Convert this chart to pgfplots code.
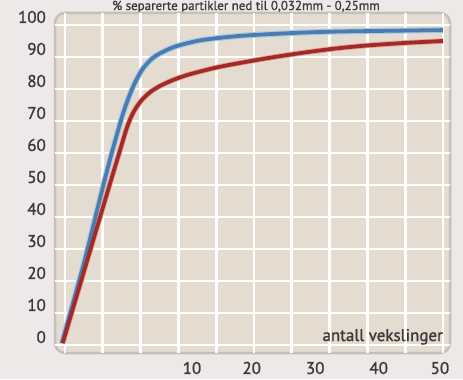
\documentclass[border=0pt]{standalone}
\usepackage{pgfplots}
\pgfplotsset{compat=1.18}
\usepackage{fontspec}
\setmainfont{PT Sans}
\newfontfamily\semib{PT Sans}[FakeBold=1.2]
\definecolor{panel}{HTML}{E4DCD0}
\definecolor{panelborder}{HTML}{C4BFBB}
\definecolor{bluec}{HTML}{4A7DAE}
\definecolor{bluehalo}{HTML}{A9CBE6}
\definecolor{redc}{HTML}{A32A2B}
\definecolor{redhalo}{HTML}{E7A78E}
\definecolor{bg}{HTML}{ECE9E8}
\definecolor{tickc}{HTML}{3A3A3A}
\pgfplotstableread{
x y
-0.4 -1.9
2.5 23
4.5 42
5.9 55
6.9 63.5
7.7 70
8.5 75.3
9.3 79.7
10.2 83.5
11.2 86.3
12.3 88.3
14.5 90.7
17.9 92.7
22.2 93.9
26.7 94.6
35.1 95.4
50 95.9
}\bluedata
\pgfplotstableread{
x y
-0.3 -1.9
3.5 28.4
6.1 49.1
7.3 58.5
8.2 65.5
9.0 70.0
10.0 73.6
11.2 76.4
12.6 78.5
14.5 80.5
16.5 82.1
20 84.2
24 86.0
28 87.6
32 89.0
36 90.2
40 91.1
45 91.9
50 92.5
}\reddata
\begin{document}
\begin{tikzpicture}[x=1bp,y=1bp]
\clip (0,0) rectangle (463,379);
\fill[bg] (0,0) rectangle (463,379);
\node[anchor=base, inner sep=0pt, font=\semib\fontsize{13}{15}\selectfont, text=tickc] at (246,369) {\% separerte partikler ned til 0,032mm - 0,25mm};
\begin{axis}[
 at={(55bp,26bp)}, anchor=south west,
 width=395bp, height=340bp, scale only axis,
 xmin=-1.32, xmax=50.93, ymin=-5, ymax=101.25,
 axis line style={draw=none},
 axis background/.style={fill=panel, draw=panelborder, rounded corners=10bp, line width=2.5bp},
 xtick={16.8,24.7,33.1,41.5,49.6}, xticklabels={10,20,30,40,50},
 ytick={0,10,...,100},
 extra x ticks={0,5,...,50}, extra x tick labels={},
 extra x tick style={grid=major},
 extra y ticks={-2.5,7.5,...,97.5}, extra y tick labels={},
 extra y tick style={grid=major},
 major grid style={white, line width=2.8bp},
 tick style={draw=none},
 ticklabel style={font=\semib\fontsize{17}{19}\selectfont, text=tickc},
 /pgf/number format/assume math mode=true,
 xticklabel style={anchor=center, yshift=-15bp},
 yticklabel style={anchor=east, inner sep=0pt, xshift=-9bp},
]
\addplot[bluehalo, line width=6bp, smooth] table {\bluedata};
\addplot[redhalo, line width=5.5bp, smooth] table {\reddata};
\addplot[bluec, line width=3.8bp, smooth] table {\bluedata};
\addplot[redc, line width=3.8bp, smooth] table {\reddata};
\end{axis}
\node[anchor=base east, inner sep=0pt, font=\semib\fontsize{17}{19}\selectfont, text=tickc] at (443,38) {antall vekslinger};
\end{tikzpicture}
\end{document}
